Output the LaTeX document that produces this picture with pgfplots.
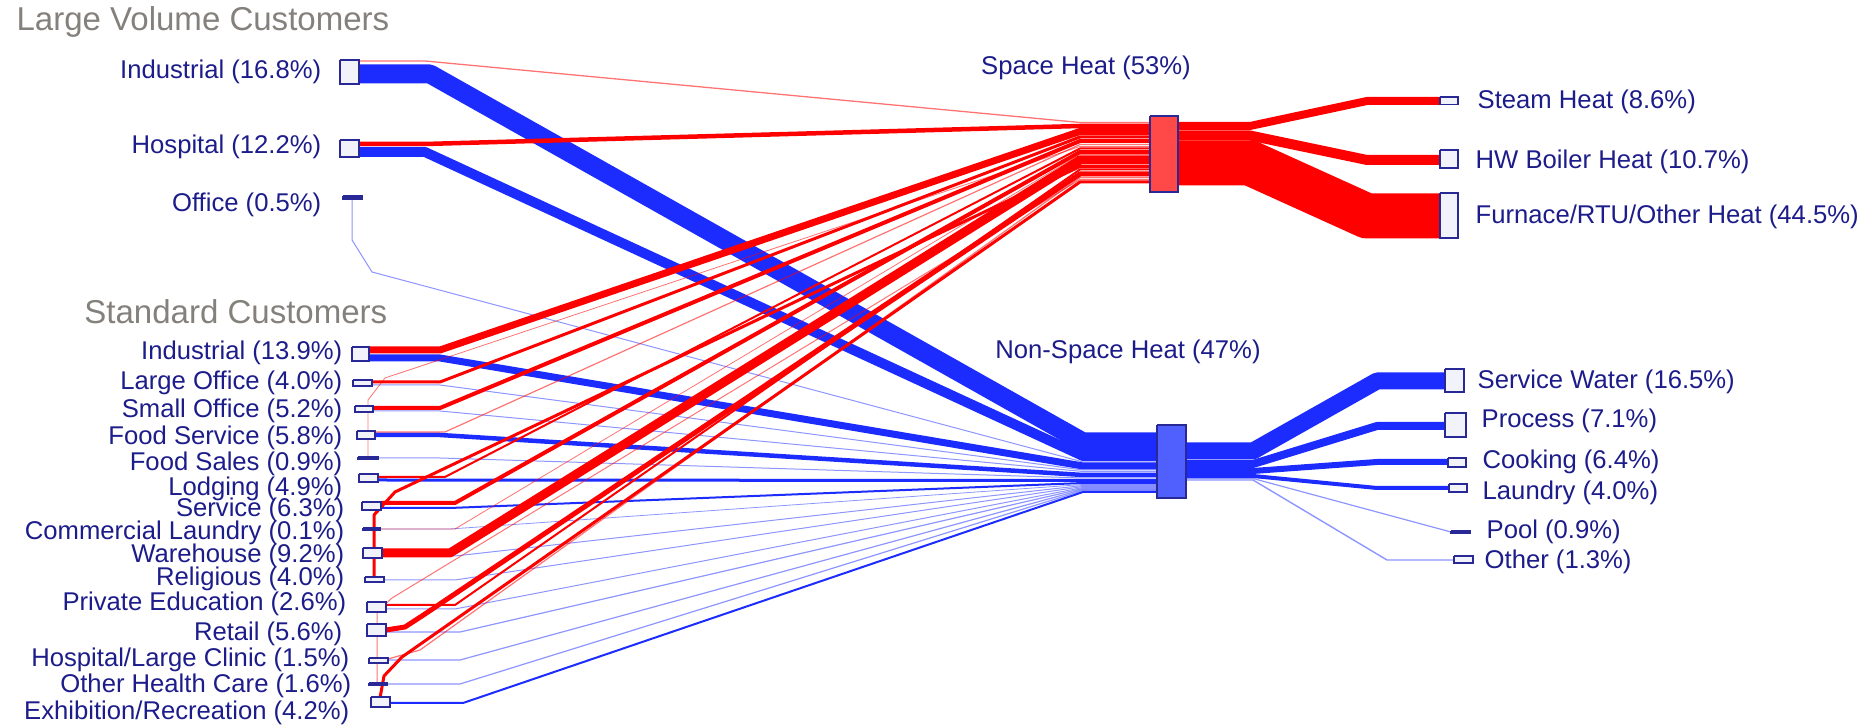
\documentclass[border=0pt]{standalone}
\usepackage{pgfplots}
\pgfplotsset{compat=1.18}
\usepackage{fontspec}
\setmainfont{Liberation Sans}
\definecolor{fred}{RGB}{255,0,0}
\definecolor{fblue}{RGB}{28,44,255}
\definecolor{navy}{RGB}{40,40,150}
\definecolor{txt}{RGB}{28,28,138}
\definecolor{head}{RGB}{132,128,124}
\definecolor{boxfill}{RGB}{242,242,250}
\definecolor{shfill}{RGB}{255,72,72}
\definecolor{nsfill}{RGB}{80,96,255}
\pgfplotsset{
  flow/.style={line join=round, line cap=butt, line width=#1*0.28453pt},
  rf/.style={draw=fred, flow=#1},
  bf/.style={draw=fblue, flow=#1},
  rft/.style={draw=fred, flow=#1, draw opacity=0.55},
  bft/.style={draw=fblue, flow=#1, draw opacity=0.5},
  nbox/.style={fill=boxfill, draw=navy, line width=0.5pt},
  dash/.style={fill=navy, draw=navy, line width=0.3pt},
}
\tikzset{
  lab/.style={inner sep=0pt, text=txt, font=\fontsize{7.3}{8}\selectfont},
  hd/.style={inner sep=0pt, text=head, font=\fontsize{9.4}{10}\selectfont},
}
\newcommand{\nodebox}[5]{\addplot[#1] coordinates {(#2,#3) (#4,#3) (#4,#5) (#2,#5) (#2,#3)};}
\begin{document}
\begin{tikzpicture}
\begin{axis}[
  scale only axis, width=18.75cm, height=7.28cm,
  xmin=0, xmax=1875, ymin=0, ymax=728, y dir=reverse,
  hide axis, clip=false,
]
\addplot[draw=none] coordinates {(0,0) (1875,728)};
% ---------- blue flows (non-space heat) ----------
\addplot[bf=19] coordinates {(359,74) (430,74) (1083,442) (1157,442)};
\addplot[bf=10] coordinates {(359,152) (425,152) (1083,456) (1157,456)};
\addplot[bft=1] coordinates {(352,199) (352,240) (372,272) (1083,462) (1157,462)};
\addplot[bf=7] coordinates {(369,358) (440,358) (1083,466) (1157,466)};
\addplot[bft=1] coordinates {(372,385) (440,385) (1083,470) (1157,470)};
\addplot[bft=1] coordinates {(373,411) (440,411) (1083,471.5) (1157,471.5)};
\addplot[bf=4.5] coordinates {(375,435) (440,435) (1083,475) (1157,475)};
\addplot[bft=1] coordinates {(378,458) (440,458) (1083,478) (1157,478)};
\addplot[bf=3] coordinates {(378,480) (1083,480.5) (1157,480.5)};
\addplot[bf=2] coordinates {(381,508) (450,508) (1083,483) (1157,483)};
\addplot[bft=0.8] coordinates {(380,529) (450,529) (1083,484.5) (1157,484.5)};
\addplot[bft=1] coordinates {(382,556) (455,556) (1083,485.5) (1157,485.5)};
\addplot[bft=1] coordinates {(384,580) (455,580) (1083,486.5) (1157,486.5)};
\addplot[bft=1] coordinates {(386,609) (455,609) (1083,487.5) (1157,487.5)};
\addplot[bft=1.2] coordinates {(386,632) (460,632) (1083,488.5) (1157,488.5)};
\addplot[bft=1.2] coordinates {(388,660) (460,660) (1083,489.5) (1157,489.5)};
\addplot[bft=1.2] coordinates {(387,684) (460,684) (1083,490.5) (1157,490.5)};
\addplot[bf=2] coordinates {(390,703) (463,703) (1083,492) (1157,492)};
% outgoing blue
\addplot[bf=17] coordinates {(1186,451) (1253,451) (1377,381) (1445,381)};
\addplot[bf=8] coordinates {(1186,464) (1253,464) (1377,426) (1445,426)};
\addplot[bf=6] coordinates {(1186,471) (1253,471) (1377,462) (1448,462)};
\addplot[bf=4] coordinates {(1186,476) (1253,476) (1377,488) (1449,488)};
\addplot[bft=1.2] coordinates {(1186,478.5) (1253,478.5) (1451,532)};
\addplot[bft=1.4] coordinates {(1186,480) (1253,480) (1387,560) (1454,560)};
% ---------- red flows (space heat) ----------
\addplot[rft=1.3] coordinates {(359,61) (425,61) (1080,122.5) (1150,122.5)};
\addplot[rf=4.5] coordinates {(359,144) (425,144) (1080,126) (1150,126)};
\addplot[rf=7] coordinates {(369,350) (440,350) (1080,131.5) (1150,131.5)};
\addplot[rf=3] coordinates {(372,382) (440,382) (1080,137) (1150,137)};
\addplot[rf=4] coordinates {(373,408) (440,408) (1080,141) (1150,141)};
\addplot[rft=1.2] coordinates {(375,432) (445,432) (1080,144.5) (1150,144.5)};
\addplot[rft=0.8] coordinates {(368,457) (368,400) (385,378) (1080,146.5) (1150,146.5)};
\addplot[rf=2] coordinates {(378,477) (445,477) (1080,148.5) (1150,148.5)};
\addplot[rf=4] coordinates {(381,503) (455,503) (1080,152) (1150,152)};
\addplot[rft=0.8] coordinates {(380,529) (455,529) (1080,154.5) (1150,154.5)};
\addplot[rf=9] coordinates {(382,553) (450,553) (1080,160) (1150,160)};
\addplot[rf=3] coordinates {(374,578) (374,515) (395,492) (1080,166.5) (1150,166.5)};
\addplot[rf=2] coordinates {(386,605) (455,605) (1080,169.5) (1150,169.5)};
\addplot[rf=5] coordinates {(386,630) (405,627) (425,614) (1080,174) (1150,174)};
\addplot[rft=1.2] coordinates {(388,659) (420,650) (1080,177.5) (1150,177.5)};
\addplot[rft=1] coordinates {(377,683) (377,612) (392,598) (1080,179.5) (1150,179.5)};
\addplot[rf=3] coordinates {(380,698) (384,676) (402,657) (1080,182) (1150,182)};
% outgoing red
\addplot[rf=8] coordinates {(1178,126) (1250,126) (1367,101) (1440,101)};
\addplot[rf=10] coordinates {(1178,135.5) (1250,135.5) (1367,160) (1440,160)};
\addplot[rf=45] coordinates {(1178,163) (1250,163) (1367,216) (1440,216)};
% ---------- node boxes ----------
\nodebox{nbox}{340}{60}{359}{84}
\nodebox{nbox}{340}{140}{359}{157}
\nodebox{dash}{343}{196}{362}{199}
\nodebox{nbox}{352}{347}{369}{361}
\nodebox{nbox}{353}{380}{372}{386}
\nodebox{nbox}{355}{406}{373}{412}
\nodebox{nbox}{357}{431}{375}{439}
\nodebox{dash}{358}{457}{378}{459.5}
\nodebox{nbox}{359}{474}{378}{482}
\nodebox{nbox}{362}{502}{381}{510}
\nodebox{dash}{363}{528}{380}{530.5}
\nodebox{nbox}{363}{548}{382}{558}
\nodebox{nbox}{365}{577}{384}{582}
\nodebox{nbox}{367}{602}{386}{612}
\nodebox{nbox}{367}{624}{386}{636}
\nodebox{nbox}{369}{658}{388}{663}
\nodebox{dash}{369}{683}{387}{685.5}
\nodebox{nbox}{371}{697}{390}{707}
\nodebox{fill=shfill, draw=navy, line width=0.6pt}{1150}{116}{1178}{192}
\nodebox{fill=nsfill, draw=navy, line width=0.6pt}{1157}{425}{1186}{498}
\nodebox{nbox}{1440}{97}{1458}{104.5}
\nodebox{nbox}{1440}{150}{1458}{168}
\nodebox{nbox}{1440}{193}{1458}{238}
\nodebox{nbox}{1445}{369}{1464}{392}
\nodebox{nbox}{1445}{413}{1466}{437}
\nodebox{nbox}{1448}{458}{1466}{467}
\nodebox{nbox}{1449}{484}{1467}{492}
\nodebox{dash}{1451}{531}{1470}{533.5}
\nodebox{nbox}{1454}{556}{1473}{563}
% ---------- labels ----------
\node[hd, anchor=east] at (axis cs:390,22) {Large Volume Customers};
\node[hd, anchor=east] at (axis cs:388,312) {Standard Customers};
\node[lab, anchor=east] at (axis cs:322,72) {Industrial (16.8\%)};
\node[lab, anchor=east] at (axis cs:322,147) {Hospital (12.2\%)};
\node[lab, anchor=east] at (axis cs:322,205) {Office (0.5\%)};
\node[lab, anchor=east] at (axis cs:343,353) {Industrial (13.9\%)};
\node[lab, anchor=east] at (axis cs:343,383) {Large Office (4.0\%)};
\node[lab, anchor=east] at (axis cs:343,411) {Small Office (5.2\%)};
\node[lab, anchor=east] at (axis cs:343,438) {Food Service (5.8\%)};
\node[lab, anchor=east] at (axis cs:343,464) {Food Sales (0.9\%)};
\node[lab, anchor=east] at (axis cs:343,489) {Lodging (4.9\%)};
\node[lab, anchor=east] at (axis cs:345,510) {Service (6.3\%)};
\node[lab, anchor=east] at (axis cs:345,533) {Commercial Laundry (0.1\%)};
\node[lab, anchor=east] at (axis cs:345,556) {Warehouse (9.2\%)};
\node[lab, anchor=east] at (axis cs:345,579) {Religious (4.0\%)};
\node[lab, anchor=east] at (axis cs:347,604) {Private Education (2.6\%)};
\node[lab, anchor=east] at (axis cs:343,634) {Retail (5.6\%)};
\node[lab, anchor=east] at (axis cs:350,660) {Hospital/Large Clinic (1.5\%)};
\node[lab, anchor=east] at (axis cs:352,686) {Other Health Care (1.6\%)};
\node[lab, anchor=east] at (axis cs:350,713) {Exhibition/Recreation (4.2\%)};
\node[lab, anchor=center] at (axis cs:1086,68) {Space Heat (53\%)};
\node[lab, anchor=center] at (axis cs:1128,352) {Non-Space Heat (47\%)};
\node[lab, anchor=west] at (axis cs:1477,102) {Steam Heat (8.6\%)};
\node[lab, anchor=west] at (axis cs:1475,162) {HW Boiler Heat (10.7\%)};
\node[lab, anchor=west] at (axis cs:1475,217) {Furnace/RTU/Other Heat (44.5\%)};
\node[lab, anchor=west] at (axis cs:1477,382) {Service Water (16.5\%)};
\node[lab, anchor=west] at (axis cs:1481,421) {Process (7.1\%)};
\node[lab, anchor=west] at (axis cs:1482,462) {Cooking (6.4\%)};
\node[lab, anchor=west] at (axis cs:1482,493) {Laundry (4.0\%)};
\node[lab, anchor=west] at (axis cs:1486,532) {Pool (0.9\%)};
\node[lab, anchor=west] at (axis cs:1484,562) {Other (1.3\%)};
\end{axis}
\end{tikzpicture}
\end{document}
